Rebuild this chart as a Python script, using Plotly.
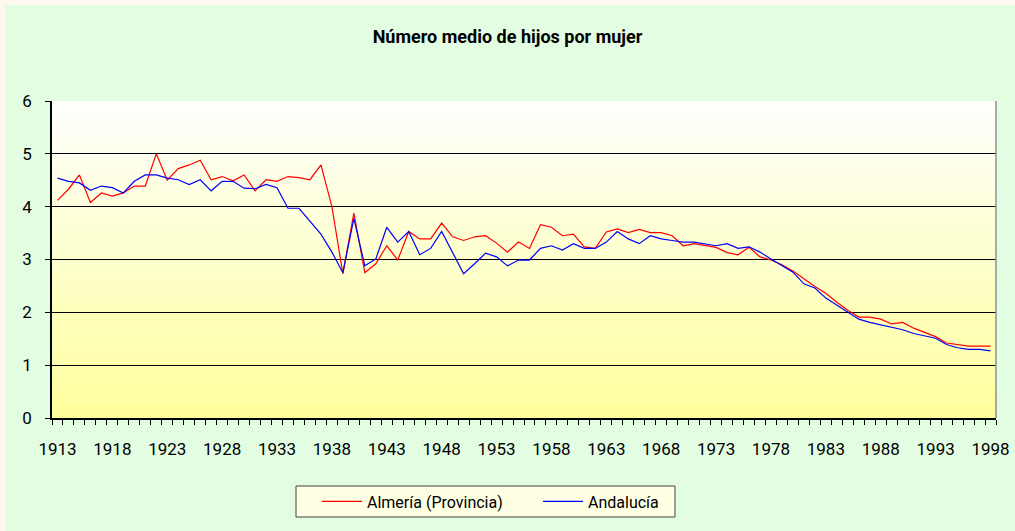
import plotly.graph_objects as go

years = list(range(1913, 1999))

almeria = [
    4.12, 4.33, 4.60, 4.08, 4.26, 4.20, 4.26, 4.39, 4.39, 5.00,
    4.50, 4.72, 4.79, 4.88, 4.51, 4.57, 4.49, 4.60, 4.30, 4.51,
    4.48, 4.57, 4.55, 4.51, 4.79, 4.00, 2.73, 3.88, 2.75, 2.92,
    3.26, 2.99, 3.53, 3.39, 3.39, 3.69, 3.43, 3.36, 3.43, 3.45,
    3.31, 3.14, 3.33, 3.21, 3.66, 3.61, 3.45, 3.48, 3.24, 3.21,
    3.52, 3.58, 3.51, 3.57, 3.51, 3.51, 3.45, 3.26, 3.30, 3.27,
    3.23, 3.13, 3.09, 3.23, 3.05, 2.99, 2.90, 2.78, 2.63, 2.49,
    2.36, 2.19, 2.04, 1.91, 1.91, 1.87, 1.78, 1.81, 1.70, 1.62,
    1.54, 1.42, 1.39, 1.36, 1.36, 1.36,
]

andalucia = [
    4.54, 4.48, 4.45, 4.31, 4.39, 4.36, 4.26, 4.48, 4.60, 4.60,
    4.54, 4.51, 4.42, 4.51, 4.30, 4.48, 4.48, 4.35, 4.34, 4.42,
    4.36, 3.97, 3.97, 3.72, 3.48, 3.14, 2.75, 3.78, 2.88, 3.01,
    3.61, 3.33, 3.53, 3.09, 3.21, 3.53, 3.14, 2.73, 2.92, 3.12,
    3.05, 2.88, 2.99, 2.99, 3.21, 3.26, 3.18, 3.30, 3.21, 3.21,
    3.33, 3.53, 3.39, 3.30, 3.45, 3.39, 3.36, 3.33, 3.33, 3.30,
    3.26, 3.30, 3.21, 3.24, 3.14, 3.01, 2.88, 2.76, 2.54, 2.46,
    2.27, 2.14, 2.00, 1.87, 1.81, 1.76, 1.71, 1.67, 1.60, 1.56,
    1.51, 1.39, 1.33, 1.30, 1.30, 1.27,
]

label_years = list(range(1913, 1999, 5))

FONT = "Roboto, Liberation Sans, sans-serif"
W, H = 1015, 531

fig = go.Figure()
fig.add_trace(go.Scatter(x=years, y=almeria, mode="lines", name="Almería (Provincia)",
                         line=dict(color="#ff0000", width=1.2), legend="legend"))
fig.add_trace(go.Scatter(x=years, y=andalucia, mode="lines", name="Andalucía",
                         line=dict(color="#0000ff", width=1.2), legend="legend2"))

# vertical white -> yellow gradient behind the plot area
shapes = []
n_bands = 80
for i in range(n_bands):
    t = (i + 0.5) / n_bands  # 0 at bottom, 1 at top
    b = int(round(0x99 + (0xff - 0x99) * t))
    shapes.append(dict(type="rect", xref="x domain", yref="y domain",
                       x0=0, x1=1, y0=i / n_bands, y1=(i + 1) / n_bands,
                       fillcolor=f"rgb(255,255,{b})", line_width=0, layer="below"))
# right border of plot area
shapes.append(dict(type="line", xref="x domain", yref="y domain", x0=1, x1=1, y0=0, y1=1,
                   line=dict(color="#909090", width=1.5)))

# pixel helpers for paper-positioned decorations (plot area 52..996 x 101..418)
def px_x(p):
    return (p - 52) / 944

def px_y(p):
    return (418 - p) / 317

# cream strips along the top and left edge of the picture
shapes.append(dict(type="rect", xref="paper", yref="paper", x0=px_x(0), x1=px_x(W),
                   y0=px_y(5), y1=px_y(0), fillcolor="#fff8ef", line_width=0, layer="below"))
shapes.append(dict(type="rect", xref="paper", yref="paper", x0=px_x(0), x1=px_x(5),
                   y0=px_y(H), y1=px_y(0), fillcolor="#fff8ef", line_width=0, layer="below"))
# legend box
shapes.append(dict(type="rect", xref="paper", yref="paper", x0=px_x(296), x1=px_x(675),
                   y0=px_y(517), y1=px_y(486), fillcolor="#ffffe3",
                   line=dict(color="#404040", width=1), layer="below"))

legend_common = dict(orientation="h", xref="container", xanchor="left",
                     yref="container", y=(H - 501.5) / H, yanchor="middle",
                     bgcolor="rgba(0,0,0,0)", borderwidth=0,
                     font=dict(family=FONT, size=16), itemwidth=40)

fig.update_layout(
    width=W,
    height=H,
    margin=dict(l=52, r=19, t=101, b=113, autoexpand=False),
    paper_bgcolor="#e3fde3",
    plot_bgcolor="rgba(0,0,0,0)",
    font=dict(family=FONT, size=17, color="#000000"),
    title=dict(text="<b>Número medio de hijos por mujer</b>", x=0.5, xanchor="center",
               y=(H - 37) / H, yanchor="middle", font=dict(family=FONT, size=18)),
    shapes=shapes,
    showlegend=True,
    legend=dict(legend_common, x=317 / W),
    legend2=dict(legend_common, x=538 / W),
    xaxis=dict(
        range=[1912.5, 1998.5],
        tickmode="array",
        tickvals=label_years,
        ticktext=[str(y) for y in label_years],
        ticks="outside",
        ticklen=0,
        ticklabelstandoff=15,
        showgrid=False,
        zeroline=False,
        showline=True,
        linecolor="#000000",
        linewidth=1.5,
        tickfont=dict(family=FONT, size=17),
        minor=dict(tick0=1912.5, dtick=1, ticks="outside", ticklen=5,
                   tickcolor="#000000", showgrid=False),
    ),
    yaxis=dict(
        range=[0, 6],
        dtick=1,
        ticks="outside",
        ticklen=5,
        tickcolor="#000000",
        ticklabelstandoff=10,
        showgrid=True,
        gridcolor="#000000",
        gridwidth=1,
        zeroline=False,
        showline=True,
        linecolor="#000000",
        linewidth=1.5,
        tickfont=dict(family=FONT, size=17),
    ),
)

fig.write_html("out.html",
               config={"displayModeBar": False},
               post_script="document.body.style.margin='0px';"
                           "document.body.style.background='#fff8ef';")
